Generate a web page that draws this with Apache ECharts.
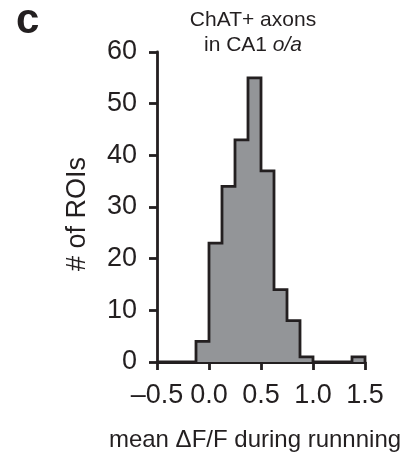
<!DOCTYPE html>
<html><head><meta charset="utf-8">
<script src="https://cdn.jsdelivr.net/npm/echarts@6/dist/echarts.min.js"></script>
<style>html,body{margin:0;padding:0;background:#fff}#c{width:414px;height:456px}</style>
</head><body><div id="c"></div>
<script>
// ---- data ----
const binStart = -0.5;
const binWidth = 0.125;
const counts = [0, 0, 0, 4, 23, 34, 43, 55, 37, 14, 8, 1, 0, 0, 0, 1];
const xTickValues = [-0.5, 0, 0.5, 1, 1.5];
const xTickLabels = ['\u20130.5', '0.0', '0.5', '1.0', '1.5'];
const yTickValues = [0, 10, 20, 30, 40, 50, 60];
const titleLine1 = 'ChAT+ axons';
const titleLine2a = 'in CA1 ';
const titleLine2b = 'o/a';
const xName = 'mean \u0394F/F during runnning';
const yName = '# of ROIs';
const panelLetter = 'c';

// ---- build step outline from bins ----
const stepData = [[binStart, 0]];
counts.forEach((c, i) => stepData.push([binStart + i * binWidth, c]));
const xEnd = binStart + counts.length * binWidth;
stepData.push([xEnd, counts[counts.length - 1]]);
stepData.push([xEnd, 0]);

const INK = '#231f20';
const FONT = 'Liberation Sans, Arial, Helvetica, sans-serif';

const chart = echarts.init(document.getElementById('c'), null, {renderer: 'canvas'});
chart.setOption({
  animation: false,
  backgroundColor: '#ffffff',
  grid: {left: 157, right: 49, top: 52, bottom: 94, containLabel: false},
  graphic: [
    {type: 'text', left: 16, top: 0, style: {text: panelLetter, font: 'bold 42px ' + FONT, fill: INK}},
    {type: 'text', x: 253, y: 8, style: {
      text: '{n|' + titleLine1 + '}\n{n|' + titleLine2a + '}{i|' + titleLine2b + '}',
      textAlign: 'center', textVerticalAlign: 'top',
      rich: {
        n: {fontFamily: FONT, fontSize: 21, fill: INK, lineHeight: 25},
        i: {fontFamily: FONT, fontSize: 21, fill: INK, lineHeight: 25, fontStyle: 'italic'}
      }
    }},
    {type: 'text', x: 255, y: 428, style: {text: xName, font: '24px ' + FONT, fill: INK, textAlign: 'center', textVerticalAlign: 'top'}},
    {type: 'text', x: 78, y: 214, rotation: Math.PI / 2, style: {text: yName, font: '27px ' + FONT, fill: INK, textAlign: 'center', textVerticalAlign: 'middle'}}
  ],
  xAxis: {
    type: 'value', min: -0.5, max: 1.5, interval: 0.5,
    axisLine: {show: true, onZero: false, lineStyle: {color: INK, width: 2.8}},
    axisTick: {show: true, inside: false, length: 8, lineStyle: {color: INK, width: 2.8}},
    splitLine: {show: false},
    axisLabel: {
      margin: 20, fontFamily: FONT, fontSize: 27, color: INK,
      formatter: v => {
        const k = xTickValues.findIndex(t => Math.abs(t - v) < 1e-9);
        return k >= 0 ? xTickLabels[k] : '';
      }
    }
  },
  yAxis: {
    type: 'value', min: 0, max: 60, interval: 10,
    axisLine: {show: true, onZero: false, lineStyle: {color: INK, width: 2.8}},
    axisTick: {show: true, inside: false, length: 8, lineStyle: {color: INK, width: 2.8}},
    splitLine: {show: false},
    axisLabel: {margin: 20, fontFamily: FONT, fontSize: 27, color: INK,
      formatter: v => yTickValues.includes(v) ? String(v) : ''}
  },
  series: [{
    type: 'line', data: stepData, step: 'end', symbol: 'none', smooth: false,
    lineStyle: {color: INK, width: 2.8, join: 'miter'},
    areaStyle: {color: '#939598', opacity: 1},
    z: 3
  }]
});
</script></body></html>
